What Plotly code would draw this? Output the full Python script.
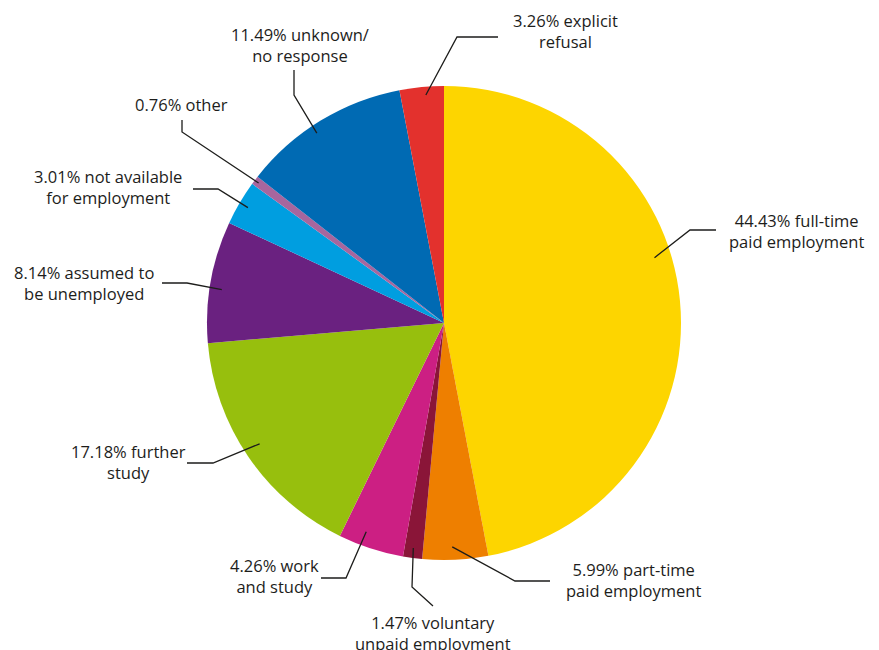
import math
import plotly.graph_objects as go

# ---- data (slice shares as drawn, clockwise from 12 o'clock) ----
categories = ["full-time paid employment", "part-time paid employment",
              "voluntary unpaid employment", "work and study", "further study",
              "assumed to be unemployed", "not available for employment",
              "other", "unknown/no response", "explicit refusal"]
shares = [47.0, 4.47, 1.30, 4.47, 16.40, 8.30, 3.05, 0.60, 11.40, 3.01]
label_texts = ["44.43% full-time<br>paid employment",
               "5.99% part-time<br>paid employment",
               "1.47% voluntary<br>unpaid employment",
               "4.26% work<br>and study",
               "17.18% further<br>study",
               "8.14% assumed to<br>be unemployed",
               "3.01% not available<br>for employment",
               "0.76% other",
               "11.49% unknown/<br>no response",
               "3.26% explicit<br>refusal"]
colors = ["#FDD500", "#EE7F00", "#8A1538", "#CC1F83", "#97BF0D",
          "#6A2180", "#009EE0", "#A7669E", "#006AB3", "#E3312D"]

W, H = 879, 650
CX, CY, R = 444, 323, 237

# ---- label layout: (anchor position within slice, anchor radius frac, path points, text centre) ----
layout_cfg = [
    (0.43, 0.93, [(690, 230), (716, 230)], (796, 231)),
    (0.54, 0.945, [(515, 581), (550, 581)], (633, 580)),
    (0.53, 0.958, [(412, 587), (433, 606)], (433, 633)),
    (0.65, 0.94, [(346, 578), (321, 578)], (274, 576)),
    (0.52, 0.93, [(213, 463), (187, 463)], (128, 462)),
    (0.45, 0.948, [(187, 283), (162, 283)], (84, 283)),
    (0.50, 0.96, [(218, 189), (193, 189)], (108, 187)),
    (0.50, 0.98, [(182, 132), (182, 120)], (181, 104)),
    (0.44, 0.964, [(294, 95), (294, 70)], (300, 45)),
    (0.58, 0.965, [(457, 37), (498, 37)], (565, 31)),
]

fig = go.Figure()
fig.add_trace(go.Pie(
    values=shares, labels=categories, sort=False, direction="clockwise",
    rotation=0, textinfo="none", hoverinfo="label",
    marker=dict(colors=colors, line=dict(width=0)),
    domain=dict(x=[(CX - R) / W, (CX + R) / W], y=[1 - (CY + R) / H, 1 - (CY - R) / H]),
    showlegend=False,
))

total = sum(shares)
cum = 0.0
annotations = []
shapes = []
for v, txt, (frac, rf, pts, tc) in zip(shares, label_texts, layout_cfg):
    theta = (cum + v * frac) / total * 2 * math.pi
    cum += v
    ax = CX + R * rf * math.sin(theta)
    ay = CY - R * rf * math.cos(theta)
    path = "M {:.2f},{:.2f} ".format(ax, ay) + " ".join(
        "L {},{}".format(p[0], p[1]) for p in pts)
    shapes.append(dict(type="path", path=path, xref="x", yref="y", layer="above",
                       line=dict(color="#1d1d1b", width=1.3)))
    annotations.append(dict(x=tc[0], y=tc[1], xref="x", yref="y", text=txt,
                            showarrow=False, align="center",
                            xanchor="center", yanchor="middle",
                            font=dict(family="Open Sans", size=16.5, color="#1d1d1b")))

fig.update_layout(
    width=W, height=H, margin=dict(l=0, r=0, t=0, b=0),
    paper_bgcolor="white", plot_bgcolor="rgba(0,0,0,0)",
    xaxis=dict(range=[0, W], visible=False, fixedrange=True, domain=[0, 1]),
    yaxis=dict(range=[H, 0], visible=False, fixedrange=True, domain=[0, 1]),
    annotations=annotations, shapes=shapes, showlegend=False,
)
fig.write_html("out.html")
